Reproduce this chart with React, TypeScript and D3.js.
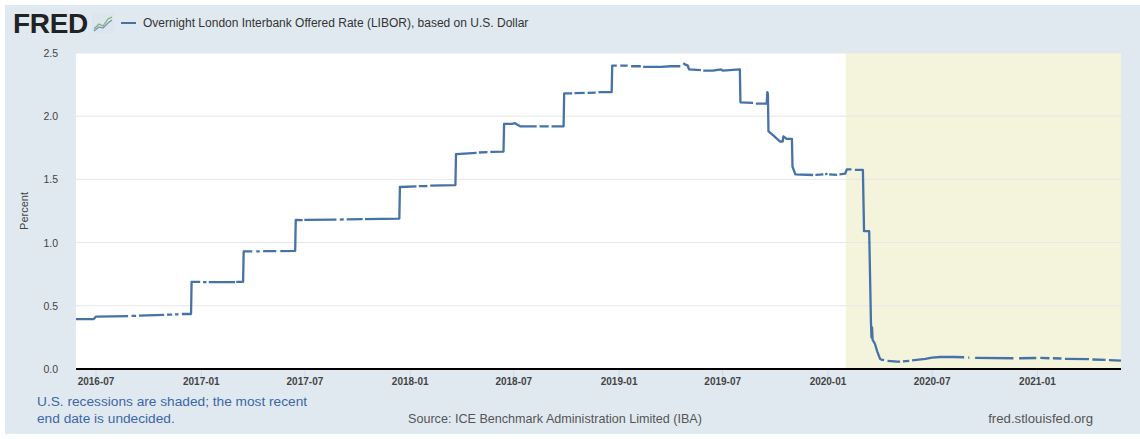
import * as d3 from 'd3'

const SERIES_NAME = 'Overnight London Interbank Offered Rate (LIBOR), based on U.S. Dollar'
const Y_TITLE = 'Percent'
const NOTE_LINES = ['U.S. recessions are shaded; the most recent', 'end date is undecided.']
const SOURCE = 'Source: ICE Benchmark Administration Limited (IBA)'
const SITE = 'fred.stlouisfed.org'

const X_DOMAIN = ['2016-05-27', '2021-05-27']
const X_TICKS = ['2016-07-01', '2017-01-01', '2017-07-01', '2018-01-01', '2018-07-01',
  '2019-01-01', '2019-07-01', '2020-01-01', '2020-07-01', '2021-01-01']
const Y_TICKS = [0, 0.5, 1, 1.5, 2, 2.5]
const RECESSION = ['2020-02-01', '2021-05-27']

// daily series; null = missing day (line break)
const LIBOR: [string, number | null][] = [
  ['2016-05-27', 0.395], ['2016-06-27', 0.395], ['2016-07-01', 0.415], ['2016-08-26', 0.418],
  ['2016-08-29', null], ['2016-09-01', 0.42], ['2016-09-09', 0.42], ['2016-09-12', null],
  ['2016-09-14', 0.422], ['2016-10-28', 0.428], ['2016-10-31', null], ['2016-11-02', 0.43],
  ['2016-11-11', 0.43], ['2016-11-14', null], ['2016-11-16', 0.432], ['2016-11-22', 0.432],
  ['2016-11-24', null], ['2016-11-28', 0.435], ['2016-12-14', 0.435],
  ['2016-12-15', 0.69], ['2016-12-30', 0.69], ['2017-01-02', null], ['2017-01-04', 0.688],
  ['2017-01-10', 0.688], ['2017-01-12', null], ['2017-01-14', 0.687], ['2017-03-01', 0.688],
  ['2017-03-02', null], ['2017-03-03', 0.69], ['2017-03-15', 0.69],
  ['2017-03-16', 0.93], ['2017-03-31', 0.93], ['2017-04-03', null], ['2017-04-07', 0.93],
  ['2017-04-13', 0.93], ['2017-04-15', null], ['2017-04-19', 0.932], ['2017-05-12', 0.932],
  ['2017-05-15', null], ['2017-05-19', 0.933], ['2017-06-14', 0.935],
  ['2017-06-15', 1.18], ['2017-06-27', 1.178], ['2017-06-28', null], ['2017-06-30', 1.18],
  ['2017-08-25', 1.182], ['2017-08-28', null], ['2017-08-31', 1.182], ['2017-09-07', 1.183],
  ['2017-09-09', null], ['2017-09-12', 1.183], ['2017-10-10', 1.185], ['2017-10-11', null],
  ['2017-10-14', 1.185], ['2017-12-13', 1.19],
  ['2017-12-14', 1.44], ['2018-01-12', 1.445], ['2018-01-14', null], ['2018-01-16', 1.447],
  ['2018-01-31', 1.447], ['2018-02-02', null], ['2018-02-05', 1.45], ['2018-03-21', 1.455],
  ['2018-03-22', 1.70], ['2018-04-27', 1.71], ['2018-04-29', null], ['2018-05-01', 1.713],
  ['2018-05-16', 1.715], ['2018-05-18', null], ['2018-05-21', 1.717], ['2018-06-13', 1.72],
  ['2018-06-14', 1.94], ['2018-06-28', 1.94], ['2018-07-03', 1.945], ['2018-07-12', 1.92],
  ['2018-08-10', 1.92], ['2018-08-13', null], ['2018-08-15', 1.92], ['2018-08-31', 1.92],
  ['2018-09-03', null], ['2018-09-05', 1.92], ['2018-09-26', 1.92],
  ['2018-09-27', 2.18], ['2018-10-11', 2.18], ['2018-10-12', null], ['2018-10-15', 2.182],
  ['2018-11-02', 2.185], ['2018-11-05', null], ['2018-11-07', 2.185], ['2018-11-21', 2.187],
  ['2018-11-23', null], ['2018-11-26', 2.19], ['2018-12-19', 2.19],
  ['2018-12-20', 2.40], ['2018-12-28', 2.40], ['2018-12-31', null], ['2019-01-03', 2.40],
  ['2019-01-16', 2.40], ['2019-01-18', null], ['2019-01-22', 2.395], ['2019-02-08', 2.395],
  ['2019-02-10', null], ['2019-02-12', 2.39], ['2019-03-15', 2.39], ['2019-04-01', 2.395],
  ['2019-04-18', 2.395], ['2019-04-20', null], ['2019-04-23', 2.42], ['2019-04-26', 2.41],
  ['2019-05-01', 2.40], ['2019-05-03', 2.37], ['2019-05-24', 2.365], ['2019-05-26', null],
  ['2019-05-28', 2.36], ['2019-06-14', 2.36], ['2019-06-28', 2.37], ['2019-07-01', 2.36],
  ['2019-07-31', 2.37],
  ['2019-08-01', 2.11], ['2019-08-23', 2.105], ['2019-08-26', null], ['2019-08-28', 2.10],
  ['2019-09-16', 2.10], ['2019-09-17', 2.19], ['2019-09-18', 2.18],
  ['2019-09-19', 1.88], ['2019-09-27', 1.85], ['2019-10-04', 1.82], ['2019-10-09', 1.80],
  ['2019-10-14', 1.80], ['2019-10-15', 1.84], ['2019-10-18', 1.83], ['2019-10-21', 1.82],
  ['2019-10-30', 1.82],
  ['2019-10-31', 1.60], ['2019-11-05', 1.54], ['2019-12-06', 1.535], ['2019-12-08', null],
  ['2019-12-10', 1.535], ['2019-12-24', 1.54], ['2019-12-25', null], ['2019-12-27', 1.54],
  ['2019-12-31', 1.545], ['2020-01-01', null], ['2020-01-03', 1.54], ['2020-01-17', 1.535],
  ['2020-01-19', null], ['2020-01-21', 1.54], ['2020-01-31', 1.545],
  ['2020-02-03', 1.58], ['2020-02-11', 1.58], ['2020-02-14', null], ['2020-02-17', 1.575],
  ['2020-03-02', 1.575],
  ['2020-03-04', 1.09], ['2020-03-13', 1.09],
  ['2020-03-16', 0.38], ['2020-03-17', 0.25], ['2020-03-18', 0.33], ['2020-03-19', 0.23],
  ['2020-03-23', 0.20], ['2020-03-27', 0.14], ['2020-04-01', 0.08], ['2020-04-03', 0.075],
  ['2020-04-08', 0.07], ['2020-04-11', null], ['2020-04-14', 0.065], ['2020-05-01', 0.058],
  ['2020-05-06', 0.058], ['2020-05-08', null], ['2020-05-11', 0.06], ['2020-05-22', 0.065],
  ['2020-05-25', null], ['2020-05-27', 0.068], ['2020-06-04', 0.073], ['2020-06-19', 0.08],
  ['2020-07-01', 0.09], ['2020-07-15', 0.095], ['2020-08-07', 0.095], ['2020-08-26', 0.093],
  ['2020-08-30', null], ['2020-09-02', 0.09], ['2020-09-04', 0.09], ['2020-09-08', null],
  ['2020-09-14', 0.088], ['2020-11-20', 0.085], ['2020-11-25', null], ['2020-11-30', 0.085],
  ['2020-12-30', 0.087], ['2021-01-02', null], ['2021-01-06', 0.088], ['2021-01-22', 0.085],
  ['2021-01-25', null], ['2021-01-28', 0.085], ['2021-02-12', 0.083], ['2021-02-15', null],
  ['2021-02-18', 0.08], ['2021-04-01', 0.078], ['2021-04-03', null], ['2021-04-07', 0.075],
  ['2021-04-30', 0.072], ['2021-05-03', null], ['2021-05-06', 0.07], ['2021-05-27', 0.066],
]

const W = 1140
const H = 439
const FONT = "'Liberation Sans', Arial, sans-serif"
const BLUE = '#4572a7'

const parse = d3.timeParse('%Y-%m-%d')
const fmt = d3.timeFormat('%Y-%m')

export default function App() {
  const plot = { left: 76, right: 1121, top: 53, bottom: 369 }

  const x = d3.scaleTime()
    .domain(X_DOMAIN.map(d => parse(d)!) as [Date, Date])
    .range([plot.left, plot.right])
  const y = d3.scaleLinear().domain([0, 2.5]).range([plot.bottom, plot.top])

  const pts = LIBOR.map(([d, v]) => ({ date: parse(d)!, v }))
  const line = d3.line<{ date: Date; v: number | null }>()
    .defined(d => d.v !== null)
    .x(d => x(d.date))
    .y(d => y(d.v as number))

  const recX0 = x(parse(RECESSION[0])!)
  const recX1 = x(parse(RECESSION[1])!)

  return (
    <svg width={W} height={H} style={{ position: 'absolute', left: 0, top: 0, fontFamily: FONT }}>
      <rect x={0} y={0} width={W} height={H} fill="#fff" />
      <rect x={5} y={5} width={W - 5} height={H - 10} fill="#e1e9f0" />

      {/* header */}
      <text x={13} y={33} fontSize={28} fontWeight={900} fill="#222" letterSpacing={-0.3}>FRED</text>
      <g transform="translate(92,13)">
        <rect width={22} height={20} fill="#dde6ee" />
        <polyline points="2,16 7,11 11,13 16,6 20,4" fill="none" stroke="#7fb069" strokeWidth={1.2} />
        <polyline points="2,18 7,14 11,15 16,10 20,7" fill="none" stroke="#6f93bf" strokeWidth={1.2} />
      </g>
      <line x1={121} x2={136} y1={23} y2={23} stroke={BLUE} strokeWidth={2} />
      <text x={143} y={27} fontSize={12} fill="#333">{SERIES_NAME}</text>

      {/* plot */}
      <rect x={plot.left} y={plot.top} width={plot.right - plot.left} height={plot.bottom - plot.top} fill="#fff" />
      <rect x={recX0} y={plot.top} width={recX1 - recX0} height={plot.bottom - plot.top} fill="#f4f4dc" />

      {Y_TICKS.map(t => (
        <g key={t}>
          <line x1={plot.left} x2={plot.right} y1={y(t)} y2={y(t)} stroke="#e6e6e6" />
          <text x={58} y={y(t) + 4} fontSize={10.5} fill="#444" textAnchor="end">{t.toFixed(1)}</text>
        </g>
      ))}
      <text transform={`translate(28,${(plot.top + plot.bottom) / 2}) rotate(-90)`} fontSize={11}
        fill="#444" textAnchor="middle">{Y_TITLE}</text>

      <path d={line(pts) ?? ''} fill="none" stroke={BLUE} strokeWidth={2.3} strokeLinejoin="round" />

      {X_TICKS.map(d => {
        const xx = x(parse(d)!)
        return (
          <g key={d}>
            <line x1={xx} x2={xx} y1={plot.bottom} y2={plot.bottom + 11} stroke="#ccd6eb" />
            <text x={xx} y={385} fontSize={10} fontWeight="bold" fill="#444" textAnchor="middle">
              {fmt(parse(d)!)}
            </text>
          </g>
        )
      })}
      <line x1={plot.left} x2={plot.right} y1={plot.bottom} y2={plot.bottom} stroke="#000" strokeWidth={2} />

      {/* footer */}
      {NOTE_LINES.map((s, i) => (
        <text key={i} x={37} y={406 + i * 17} fontSize={13.7} fill="#3a67a8">{s}</text>
      ))}
      <text x={408} y={423} fontSize={12.6} fill="#555">{SOURCE}</text>
      <text x={1093} y={423} fontSize={13.2} fill="#555" textAnchor="end">{SITE}</text>
    </svg>
  )
}
